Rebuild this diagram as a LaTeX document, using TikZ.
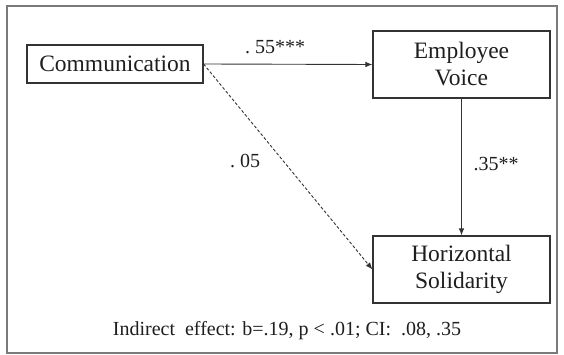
\documentclass[tikz,border=0pt]{standalone}
\usepackage{fontspec}
\setmainfont{Liberation Serif}
\usetikzlibrary{arrows.meta}
\definecolor{boxline}{HTML}{333333}
\definecolor{frameline}{HTML}{7A7A7A}
\definecolor{txt}{HTML}{1E1E1E}
\tikzset{
  varbox/.style={draw=boxline, line width=1.1pt, inner sep=0pt, align=center,
    text=txt, font=\fontsize{23.5}{27}\selectfont},
  coef/.style={inner sep=0pt, text=txt, font=\fontsize{20}{24}\selectfont},
  path arrow/.style={draw=boxline, line width=0.9pt, -{Latex[length=7pt,width=5.5pt]}},
}
\begin{document}
\begin{tikzpicture}[x=1pt,y=-1pt]
\useasboundingbox (0,0) rectangle (564,355);
\draw[frameline, line width=1.5pt] (7,6) rectangle (557,353);
\node[varbox, minimum width=176pt, minimum height=38pt] (comm) at (115,64) {Communication};
\node[varbox, minimum width=177pt, minimum height=67pt] (ev) at (461.5,64.5) {Employee\\Voice};
\node[varbox, minimum width=177pt, minimum height=67pt] (hs) at (461.5,269.5) {Horizontal\\Solidarity};
\draw[path arrow] (comm.east) -- (ev.west);
\draw[path arrow] (ev.south) -- (hs.north);
\draw[path arrow, dash pattern=on 3pt off 2pt] (comm.east) -- (hs.west);
\node[coef] (a) at (275,47) {.\ 55***};
\node[coef] (c) at (245,161) {.\ 05};
\node[coef] (b) at (496,164) {.35**};
\node[coef] (ind) at (287,331) {Indirect\ \ effect: b=.19, p < .01; CI:\ \ .08, .35};
\end{tikzpicture}
\end{document}
